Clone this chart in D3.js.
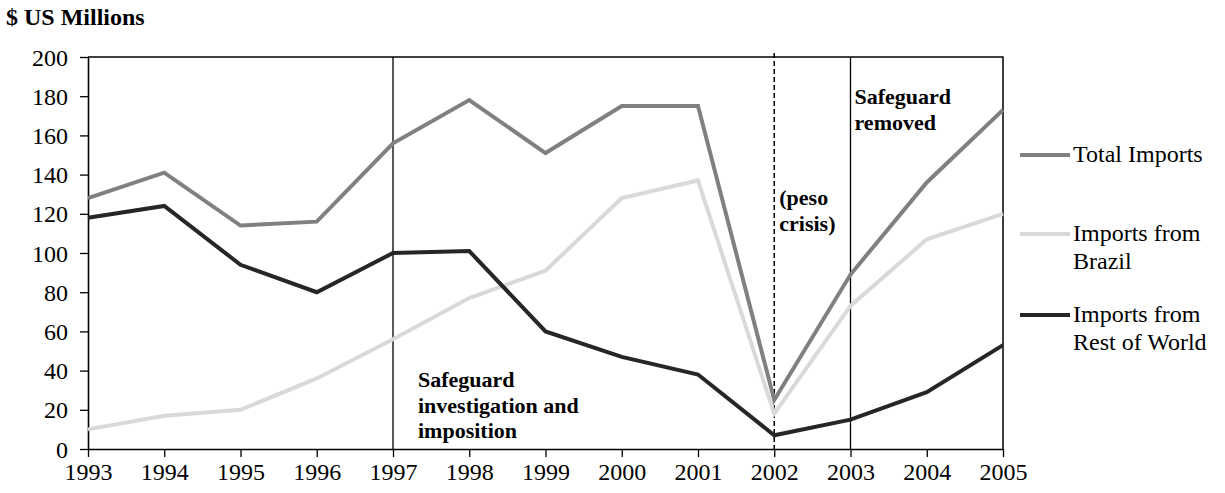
<!DOCTYPE html>
<html>
<head>
<meta charset="utf-8">
<title>Imports</title>
<script src="https://d3js.org/d3.v7.min.js"></script>
<style>
  body { margin: 0; background: #fff; }
  text { font-family: "Liberation Serif", "Times New Roman", serif; }
</style>
</head>
<body>
<div id="chart"></div>
<script>
// data ($ US millions)
var years = [1993, 1994, 1995, 1996, 1997, 1998, 1999, 2000, 2001, 2002, 2003, 2004, 2005];
var totalImports = [128, 141, 114, 116, 156, 178, 151, 175, 175, 25, 89, 136, 173];
var brazilImports = [10, 17, 20, 36, 56, 77, 91, 128, 137, 18, 73, 107, 120];
var restImports = [118, 124, 94, 80, 100, 101, 60, 47, 38, 7, 15, 29, 53];
var yTicks = [0, 20, 40, 60, 80, 100, 120, 140, 160, 180, 200];
var seriesNames = ["Total Imports", "Imports from Brazil", "Imports from Rest of World"];

var W = 1225, H = 493;
var margin = { top: 57, left: 88, right: 222, bottom: 44 };
var width = W - margin.left - margin.right,
    height = H - margin.top - margin.bottom;

var svg = d3.select("#chart").append("svg")
    .attr("width", W).attr("height", H);

var g = svg.append("g")
    .attr("transform", "translate(" + margin.left + "," + margin.top + ")");

var x = d3.scaleLinear().domain([1993, 2005]).range([0, width]);
var y = d3.scaleLinear().domain([0, 200]).range([height, 0]);

// title
svg.append("text")
    .attr("x", 6).attr("y", 25)
    .style("font-size", "24px")
    .style("font-weight", "bold")
    .text("$ US Millions");

// frame (top + right)
g.append("path")
    .attr("d", "M0,0H" + width + "V" + height)
    .attr("fill", "none").attr("stroke", "#000").attr("stroke-width", 1.5);

// event lines
g.append("line")
    .attr("x1", x(1997)).attr("x2", x(1997)).attr("y1", 0).attr("y2", height)
    .attr("stroke", "#000").attr("stroke-width", 1.3);
g.append("line")
    .attr("x1", x(2002)).attr("x2", x(2002)).attr("y1", -4).attr("y2", height)
    .attr("stroke", "#000").attr("stroke-width", 1.5).attr("stroke-dasharray", "5,3");
g.append("line")
    .attr("x1", x(2003)).attr("x2", x(2003)).attr("y1", 0).attr("y2", height)
    .attr("stroke", "#000").attr("stroke-width", 1.3);

// axes
var xAxis = g.append("g")
    .attr("transform", "translate(0," + height + ")")
    .call(d3.axisBottom(x).tickValues(years).tickFormat(d3.format("d")).tickSize(8).tickSizeOuter(0));
var yAxis = g.append("g")
    .call(d3.axisLeft(y).tickValues(yTicks).tickSize(8).tickSizeOuter(0));

[xAxis, yAxis].forEach(function (a) {
    a.select(".domain").attr("stroke", "#000").attr("stroke-width", 1.6);
    a.selectAll(".tick line").attr("stroke", "#000").attr("stroke-width", 1.3);
    a.selectAll("text")
        .style("font-family", "'Liberation Serif', 'Times New Roman', serif")
        .style("font-size", "24px")
        .attr("fill", "#000");
});
xAxis.selectAll("text").attr("dy", "0.8em").attr("y", 12);
yAxis.selectAll("text").attr("x", -20).attr("dy", "0.34em");

// lines
var colors = ["#808080", "#d9d9d9", "#262626"];
var allSeries = [totalImports, brazilImports, restImports];
var line = d3.line()
    .x(function (d, i) { return x(years[i]); })
    .y(function (d) { return y(d); });

// draw brazil first, then total, then rest
[1, 0, 2].forEach(function (k) {
    g.append("path")
        .datum(allSeries[k])
        .attr("d", line)
        .attr("fill", "none")
        .attr("stroke", colors[k])
        .attr("stroke-width", 4)
        .attr("stroke-linejoin", "miter");
});

// annotations
function label(xp, yp, lines) {
    var t = g.append("text")
        .attr("x", xp).attr("y", yp)
        .style("font-size", "22px")
        .style("font-weight", "bold");
    lines.forEach(function (s, i) {
        t.append("tspan").attr("x", xp).attr("dy", i === 0 ? 0 : 25.5).text(s);
    });
}
label(x(1997) + 25, 330, ["Safeguard", "investigation and", "imposition"]);
label(x(2002) + 5, 148, ["(peso", "crisis)"]);
label(x(2003) + 4, 47, ["Safeguard", "removed"]);

// legend
var legendItems = [
    { lines: ["Total Imports"], y: 155 },
    { lines: ["Imports from", "Brazil"], y: 234 },
    { lines: ["Imports from", "Rest of World"], y: 315 }
];
legendItems.forEach(function (d, k) {
    svg.append("line")
        .attr("x1", 1020).attr("x2", 1070)
        .attr("y1", d.y).attr("y2", d.y)
        .attr("stroke", colors[k]).attr("stroke-width", 4);
    var t = svg.append("text")
        .attr("x", 1073).attr("y", d.y + 7)
        .style("font-size", "24px");
    d.lines.forEach(function (s, i) {
        t.append("tspan").attr("x", 1073).attr("dy", i === 0 ? 0 : 28).text(s);
    });
});
</script>
</body>
</html>
